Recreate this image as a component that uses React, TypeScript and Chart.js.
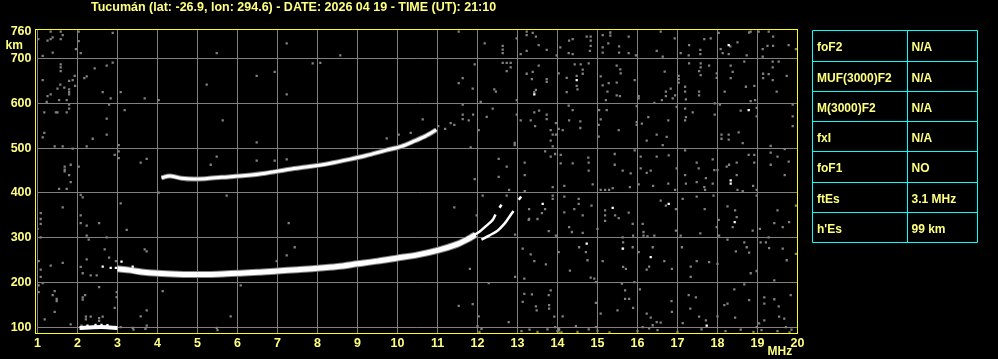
import { useEffect, useRef } from 'react';
import { Chart, registerables } from 'chart.js';

Chart.register(...registerables);

const TITLE = 'Tucumán (lat: -26.9, lon: 294.6) - DATE: 2026 04 19 - TIME (UT): 21:10';
const HEIGHT_TICKS = [100, 200, 300, 400, 500, 600, 700, 760];
const PARAM_NAMES = ['foF2', 'MUF(3000)F2', 'M(3000)F2', 'fxI', 'foF1', 'ftEs', "h'Es"];
const PARAM_VALUES = ['N/A', 'N/A', 'N/A', 'N/A', 'NO', '3.1 MHz', '99 km'];

// [MHz, km]
const F_TRACE: number[][] = [
  [3.0, 231], [3.3, 228], [3.6, 224], [4.0, 221], [4.5, 219], [5.0, 218], [5.5, 219], [6.0, 221],
  [6.5, 223], [7.0, 226], [7.5, 229], [8.0, 232], [8.5, 236], [9.0, 242], [9.5, 248], [10.0, 255],
  [10.5, 262], [11.0, 272], [11.5, 286], [11.8, 299], [11.95, 307],
];
const BRANCH_A: number[][] = [[11.85, 303], [12.04, 313], [12.21, 326], [12.38, 340], [12.45, 352]];
const BRANCH_A2: number[][] = [[12.55, 367], [12.6, 374]];
const BRANCH_B: number[][] = [[12.1, 296], [12.29, 305], [12.5, 316], [12.67, 331], [12.79, 346], [12.9, 360]];
const BRANCH_B2: number[][] = [[13.03, 385], [13.09, 392]];
const F2_MULTI: number[][] = [
  [4.1, 434], [4.3, 438], [4.6, 433], [4.9, 431], [5.2, 432], [5.6, 435], [6.2, 439], [6.7, 444],
  [7.3, 453], [7.8, 459], [8.3, 466], [8.8, 475], [9.2, 483], [9.7, 495], [10.1, 504], [10.45, 517],
  [10.7, 527], [10.97, 541],
];
const ES_TRACE: number[][] = [[2.05, 99], [2.3, 100], [2.6, 101], [2.8, 100], [3.0, 99]];
const WHITE_SPOTS: number[][] = [
  [2.25, 104], [2.45, 106], [2.6, 106], [2.75, 105], [2.63, 236], [2.83, 233], [2.96, 233], [3.1, 247],
  [3.38, 236], [13.42, 620], [14.48, 652], [18.28, 730], [18.78, 585], [18.33, 428], [13.63, 376],
  [15.38, 367], [16.78, 376], [18.43, 335], [14.73, 287], [15.63, 276], [16.33, 257], [17.73, 104],
  [18.33, 421],
];
const NOISE_LEFT: number[][] = [
  [1.33, 760], [1.58, 760], [1.63, 752], [2.03, 760], [2.88, 757], [1.33, 743], [1.25, 740], [1.58, 743],
  [2.03, 739], [1.38, 747], [1.13, 706], [1.38, 713], [1.96, 721], [2.08, 712], [1.02, 743], [7.23, 734],
  [5.48, 712], [8.57, 707], [1.58, 687], [1.58, 680], [1.58, 672], [2.88, 691], [2.73, 684], [2.43, 678],
  [2.17, 656], [2.23, 660], [1.93, 661], [1.13, 652], [1.79, 650], [1.88, 652], [1.94, 639], [1.57, 642],
  [1.5, 633], [1.67, 635], [1.79, 631], [1.79, 625], [1.79, 620], [1.33, 620], [1.25, 616], [1.54, 607],
  [1.73, 607], [2.63, 625], [3.08, 625], [2.83, 611], [3.68, 611], [4.03, 607], [1.23, 603], [1.79, 597],
  [1.79, 588], [1.46, 580], [1.5, 580], [1.17, 580], [1.73, 580], [2.79, 597], [3.18, 585], [2.73, 566],
  [5.63, 562], [5.23, 642], [6.48, 661], [6.93, 670], [7.23, 620], [7.88, 689], [8.07, 690], [1.17, 534],
  [1.13, 524], [2.38, 521], [2.73, 530], [1.43, 504], [1.63, 504], [1.88, 499], [2.23, 504], [3.03, 507],
  [3.03, 493], [3.03, 478], [2.93, 485], [3.73, 476], [3.58, 468], [6.48, 513], [6.48, 472], [6.93, 472],
  [7.23, 475], [5.48, 481], [5.33, 463], [9.73, 522], [10.03, 530], [10.33, 534], [1.68, 459], [1.68, 452],
  [1.68, 448], [1.79, 440], [1.83, 463], [2.03, 459],
  [1.54, 409], [1.73, 409], [1.83, 424], [2.08, 396], [2.13, 390], [3.08, 377], [4.03, 401], [5.73, 394],
  [1.63, 368], [1.08, 355], [1.08, 342], [1.08, 331], [2.08, 350], [2.08, 333], [2.23, 327], [2.54, 333],
  [3.23, 318], [2.23, 305], [2.28, 296], [2.73, 301], [1.08, 301], [1.0, 320], [7.28, 333], [7.43, 279],
  [7.23, 261], [6.98, 248], [2.68, 274], [2.79, 256], [2.96, 248], [3.68, 274], [3.73, 270], [2.23, 252],
  [1.63, 244], [1.33, 238], [1.03, 248], [1.08, 229], [1.08, 213], [2.08, 235], [2.13, 221], [2.33, 216],
  [2.48, 216], [2.54, 190], [1.03, 194], [1.03, 179], [1.13, 199], [1.43, 181], [1.38, 172], [1.48, 164],
  [1.48, 159], [2.13, 167], [2.13, 162], [2.19, 172], [2.98, 179], [2.98, 168], [2.93, 144], [3.73, 138],
  [3.58, 125], [4.13, 181], [6.08, 194], [5.83, 125], [1.43, 135], [1.18, 118], [2.21, 124], [2.33, 124],
  [2.54, 121], [2.63, 124], [3.08, 101], [3.38, 99], [3.73, 104], [5.48, 99], [1.83, 107], [2.21, 118],
  [2.54, 115], [2.1, 104], [3.4, 95], [3.7, 97], [5.5, 94],
];
const NOISE_RIGHT: number[][] = [
  [11.53, 760], [12.18, 734], [12.63, 728], [12.63, 720], [12.63, 712], [12.98, 745], [13.23, 760],
  [13.38, 757], [13.46, 749], [13.23, 752], [13.23, 717], [13.08, 710], [13.53, 730], [13.73, 719],
  [14.07, 725], [13.98, 707], [14.29, 740], [14.38, 743], [14.38, 710], [14.28, 712], [14.73, 749],
  [14.83, 749], [14.83, 740], [14.83, 728], [14.81, 717], [15.13, 752], [15.13, 725], [15.13, 713],
  [15.32, 758], [15.32, 751], [15.27, 734], [15.54, 727], [15.78, 749], [15.54, 713], [15.78, 712],
  [15.96, 707], [16.58, 760], [16.48, 717], [16.63, 704], [16.93, 745], [17.08, 712], [17.29, 730],
  [17.28, 707], [17.57, 719], [17.57, 710], [17.67, 743], [17.83, 745], [18.03, 757], [18.08, 721],
  [18.13, 712], [18.32, 727], [18.28, 710], [18.5, 736], [18.73, 707], [18.79, 758], [18.83, 760],
  [19.03, 760], [19.28, 760], [19.39, 749], [19.13, 721], [19.13, 704], [19.25, 728], [19.39, 728],
  [19.78, 730], [19.96, 721],
  [11.93, 687], [12.63, 690], [12.73, 690], [12.83, 690], [12.73, 672], [12.83, 680], [11.63, 656],
  [11.53, 645], [11.88, 633], [12.42, 631], [12.46, 626], [12.08, 603], [12.98, 607], [13.23, 666],
  [13.38, 670], [13.36, 654], [13.46, 630], [13.42, 625], [13.53, 684], [13.73, 654], [13.73, 648],
  [14.03, 667], [14.23, 657], [14.48, 661], [14.48, 639], [14.43, 687], [14.58, 687], [14.78, 689],
  [14.63, 675], [14.63, 666], [14.23, 625], [14.5, 631], [15.08, 660], [15.13, 640], [15.28, 645],
  [15.48, 684], [15.57, 676], [15.58, 667], [15.48, 646], [15.48, 618], [15.56, 616], [15.21, 607],
  [15.25, 626], [15.93, 652], [16.03, 616], [16.03, 611], [16.42, 601], [16.68, 671], [16.83, 633],
  [16.71, 626], [16.71, 616], [16.61, 607], [16.88, 611], [16.94, 618], [17.03, 661], [17.03, 654],
  [17.03, 646], [17.19, 637], [17.19, 626], [17.21, 609], [17.29, 689], [17.58, 689], [17.58, 680],
  [17.54, 672], [17.58, 663], [17.54, 626], [17.54, 618], [17.79, 684], [17.98, 667], [17.98, 657],
  [18.18, 626], [18.33, 684], [18.38, 670], [18.33, 656], [18.71, 637], [18.92, 639], [18.67, 693],
  [18.83, 605], [18.94, 607], [19.14, 666], [19.14, 656], [19.28, 665], [19.38, 693], [19.38, 680],
  [19.53, 693], [19.38, 652], [19.73, 661], [19.48, 626],
  [10.63, 564], [11.42, 552], [11.33, 556], [11.19, 543], [11.02, 549], [11.63, 597], [11.63, 575],
  [11.63, 565], [11.78, 562], [11.89, 575], [12.03, 540], [12.23, 570], [12.38, 588], [12.98, 575],
  [12.93, 512], [12.93, 507], [13.08, 562], [13.33, 562], [13.42, 580], [13.54, 584], [13.73, 575],
  [13.73, 565], [13.44, 549], [13.83, 540], [13.88, 530], [13.96, 530], [13.83, 517], [13.88, 504],
  [13.96, 556], [14.03, 543], [14.13, 540], [14.28, 595], [14.38, 585], [14.29, 562], [14.57, 560],
  [14.57, 545], [15.04, 585], [15.23, 585], [15.08, 564], [15.03, 552], [15.03, 526], [15.53, 540],
  [15.98, 594], [15.98, 558], [15.98, 552], [16.11, 555], [16.27, 569], [16.23, 517], [16.48, 530],
  [16.73, 525], [16.63, 507], [16.77, 562], [16.98, 592], [17.21, 569], [17.19, 562], [17.19, 588],
  [17.38, 580], [17.93, 600], [18.06, 597], [17.93, 575], [18.1, 530], [18.28, 530], [18.1, 521],
  [18.28, 519], [18.53, 535], [18.63, 511], [18.58, 584], [18.98, 590], [18.98, 571], [19.88, 597],
  [19.88, 571], [19.88, 549],
  [11.83, 502], [11.93, 431], [12.53, 476], [12.53, 436], [12.73, 459], [13.18, 468], [13.18, 440],
  [13.69, 493], [13.83, 481], [13.94, 487], [14.08, 485], [14.08, 466], [14.38, 466], [14.78, 468],
  [14.78, 450], [14.77, 479], [15.43, 487], [15.43, 463], [15.63, 450], [15.83, 444], [15.93, 495],
  [16.08, 481], [16.08, 455], [16.23, 445], [16.33, 450], [16.48, 481], [16.78, 484], [16.98, 455],
  [17.19, 495], [17.19, 440], [17.48, 468], [17.53, 455], [17.71, 433], [17.88, 475], [17.92, 451],
  [18.0, 451], [18.23, 459], [18.29, 463], [18.48, 468], [18.48, 440], [18.78, 485], [18.92, 485],
  [18.92, 468], [19.33, 505], [19.33, 490], [19.33, 463], [19.5, 481], [19.68, 498], [19.68, 440],
  [19.78, 470],
  [12.79, 407], [13.18, 404], [13.88, 413], [14.17, 416], [14.17, 392], [14.88, 419], [15.08, 407],
  [15.19, 407], [15.29, 407], [15.38, 411], [15.81, 413], [16.03, 419], [16.39, 416], [16.77, 421],
  [16.94, 407], [17.21, 421], [17.48, 424], [17.67, 413], [17.69, 407], [17.88, 421], [17.9, 394],
  [18.5, 407], [18.63, 404], [18.89, 416], [18.98, 407], [12.13, 394], [12.73, 394], [13.29, 364],
  [13.29, 342], [13.61, 355], [13.5, 342], [13.69, 364], [13.88, 394], [13.88, 387], [14.17, 357],
  [14.53, 387], [14.53, 376], [14.85, 372], [14.63, 350], [14.42, 364], [15.19, 361], [15.19, 350],
  [15.19, 338], [15.44, 350], [15.53, 344], [15.78, 356], [15.88, 331], [16.13, 331], [16.58, 383],
  [16.71, 372], [16.96, 364], [17.13, 387], [17.48, 392], [17.68, 364], [18.03, 340], [18.25, 370],
  [18.44, 361], [18.48, 346], [18.38, 324], [18.88, 316], [19.06, 320], [19.28, 301], [19.42, 333],
  [19.63, 324], [19.5, 361], [19.79, 335], [19.96, 372], [18.98, 394],
  [11.42, 368], [11.98, 350], [12.94, 307], [13.28, 340], [13.78, 315], [13.96, 305], [14.29, 324],
  [14.36, 313], [14.63, 311], [15.0, 320], [15.63, 301], [15.89, 305], [16.15, 313], [16.15, 305],
  [16.25, 303], [16.42, 305], [17.08, 305], [16.96, 316], [17.57, 310], [17.98, 324], [18.04, 305],
  [13.13, 276], [13.33, 263], [13.42, 248], [13.17, 209], [12.94, 213], [13.71, 241], [14.03, 268],
  [14.31, 227], [14.54, 279], [14.71, 268], [14.75, 250], [14.83, 211], [14.92, 209], [15.13, 248],
  [14.96, 201], [15.64, 290], [15.64, 276], [15.64, 235], [15.71, 231], [15.88, 279], [15.92, 201],
  [16.03, 268], [16.29, 236], [16.23, 229], [16.38, 279], [16.67, 248], [16.86, 231], [17.11, 279],
  [17.33, 236], [17.33, 213], [17.48, 248], [17.79, 246], [18.0, 242], [18.25, 296], [18.46, 270],
  [18.67, 290], [18.73, 279], [18.79, 267], [18.83, 221], [18.98, 226], [19.08, 290], [19.21, 290],
  [19.29, 277], [19.42, 205], [19.63, 276], [19.73, 250], [19.96, 264],
  [11.81, 231], [11.53, 148], [11.88, 152], [12.28, 199], [12.03, 125], [12.0, 103], [12.78, 112],
  [13.17, 175], [13.13, 157], [13.36, 174], [13.48, 138], [13.46, 147], [13.79, 150], [13.79, 142],
  [13.83, 183], [13.92, 124], [14.13, 125], [13.78, 172], [13.94, 101], [14.04, 94], [14.46, 103],
  [14.78, 96], [14.96, 155], [14.96, 101], [15.08, 131], [15.5, 138], [15.61, 198], [15.69, 183],
  [15.69, 164], [15.79, 164], [15.89, 144], [16.06, 185], [16.13, 101], [16.23, 131], [16.33, 122],
  [16.38, 105], [16.48, 112], [16.58, 111], [16.85, 159], [16.86, 135], [17.13, 110], [17.28, 172],
  [17.32, 142], [17.46, 167], [17.54, 124], [17.71, 116], [18.0, 125], [18.17, 150], [18.25, 153],
  [18.42, 185], [18.44, 122], [18.58, 95], [18.67, 196], [18.79, 161], [18.98, 101], [19.17, 167],
  [19.17, 153], [19.17, 116], [19.42, 163], [19.53, 147], [19.54, 124], [19.67, 120], [19.83, 172],
  [19.71, 101], [19.04, 109], [16.29, 98], [14.04, 98],
  [12.1, 97], [12.05, 90], [13.1, 92], [13.3, 95], [13.5, 90], [13.75, 96], [14.0, 92], [14.05, 88],
  [14.1, 89], [14.5, 90], [15.0, 93], [15.3, 89], [16.0, 92], [16.5, 94], [17.0, 90], [17.6, 96],
  [18.2, 92], [18.9, 90], [19.1, 94], [19.5, 92], [19.8, 89], [19.85, 95],
];

const TEXT = '#ffff80';
const FRAME = '#ffff00';
const GRID = '#808080';
const CYAN = '#00ffff';
const FONT = '"Liberation Sans", Arial, sans-serif';

const xy = (arr: number[][]) => arr.map(([x, y]) => ({ x, y }));

// lower "order" is drawn on top
const lineSet = (arr: number[][], color: string, width: number, order: number) => ({
  data: xy(arr),
  showLine: true,
  borderColor: color,
  borderWidth: width,
  pointRadius: 0,
  tension: 0.3,
  order,
});

const pointSet = (arr: number[][], color: string, order: number) => ({
  data: xy(arr),
  showLine: false,
  pointStyle: 'rect',
  pointRadius: 1.6,
  pointBorderWidth: 0,
  backgroundColor: color,
  borderColor: color,
  order,
});

const overlay = {
  id: 'overlay',
  beforeDraw(chart: any) {
    const ctx = chart.ctx;
    ctx.save();
    ctx.fillStyle = '#000';
    ctx.fillRect(0, 0, chart.width, chart.height);
    ctx.restore();
  },
  afterDraw(chart: any) {
    const ctx = chart.ctx;
    const a = chart.chartArea;
    ctx.save();
    ctx.strokeStyle = FRAME;
    ctx.lineWidth = 1;
    ctx.strokeRect(a.left - 2, a.top, a.right - a.left + 2, a.bottom - a.top);

    ctx.fillStyle = TEXT;
    ctx.textBaseline = 'alphabetic';
    ctx.textAlign = 'left';
    ctx.font = `bold 12.5px ${FONT}`;
    ctx.fillText(TITLE, 91, 11);
    ctx.font = `bold 12px ${FONT}`;
    ctx.fillText('km', 5.5, 49);
    ctx.fillText('MHz', 767.5, 355);

    // parameter table
    const tx0 = 812.5, tx1 = 907.5, tx2 = 977.5;
    const rows = [30.5, 61.5, 91.5, 121.5, 151.5, 182.5, 212.5, 242.5];
    ctx.strokeStyle = CYAN;
    ctx.beginPath();
    rows.forEach((r) => { ctx.moveTo(tx0, r); ctx.lineTo(tx2, r); });
    [tx0, tx1, tx2].forEach((c) => { ctx.moveTo(c, rows[0]); ctx.lineTo(c, rows[rows.length - 1]); });
    ctx.stroke();
    ctx.fillStyle = TEXT;
    ctx.font = `bold 12px ${FONT}`;
    PARAM_NAMES.forEach((n, i) => {
      ctx.fillText(n, 817, rows[i] + 20.5);
      ctx.fillText(PARAM_VALUES[i], 911.5, rows[i] + 20.5);
    });
    ctx.restore();
  },
};

export default function App() {
  const ref = useRef<HTMLCanvasElement | null>(null);
  useEffect(() => {
    if (!ref.current) return;
    const chart = new Chart(ref.current, {
      type: 'scatter',
      data: {
        datasets: [
          pointSet(NOISE_LEFT, GRID, 5),
          pointSet(NOISE_RIGHT, GRID, 5),
          lineSet(F_TRACE, GRID, 7, 4),
          lineSet(F2_MULTI, GRID, 5, 4),
          lineSet(F_TRACE, '#ffffff', 5, 1),
          lineSet(F2_MULTI, '#ffffff', 3, 1),
          lineSet(BRANCH_A, '#ffffff', 2.5, 1),
          lineSet(BRANCH_A2, '#ffffff', 2.5, 1),
          lineSet(BRANCH_B, '#ffffff', 2.5, 1),
          lineSet(BRANCH_B2, '#ffffff', 2.5, 1),
          lineSet(ES_TRACE, '#ffffff', 4, 1),
          pointSet(WHITE_SPOTS, '#ffffff', 0),
        ] as any,
      },
      options: {
        animation: false,
        responsive: false,
        devicePixelRatio: 1,
        layout: { padding: { top: 29.5, right: 200.5, left: 0, bottom: 0 } },
        plugins: { legend: { display: false }, tooltip: { enabled: false } },
        scales: {
          x: {
            type: 'linear',
            min: 1,
            max: 20,
            afterFit: (s: any) => { s.height = 25.5; },
            ticks: {
              stepSize: 1,
              autoSkip: false,
              maxRotation: 0,
              color: TEXT,
              padding: 3,
              font: { family: FONT, size: 12.5, weight: 'bold' },
            },
            grid: { color: GRID, lineWidth: 1, drawTicks: false },
            border: { display: false },
          },
          y: {
            type: 'linear',
            min: 86.6,
            max: 764.7,
            afterFit: (s: any) => { s.width = 37.5; },
            afterBuildTicks: (s: any) => { s.ticks = HEIGHT_TICKS.map((v) => ({ value: v })); },
            ticks: {
              color: TEXT,
              padding: 6,
              font: { family: FONT, size: 12.5, weight: 'bold' },
            },
            grid: {
              color: (c: any) => (c.tick && c.tick.value === 760 ? 'rgba(0,0,0,0)' : GRID),
              lineWidth: 1,
              drawTicks: false,
            },
            border: { display: false },
          },
        },
      } as any,
      plugins: [overlay],
    });
    return () => chart.destroy();
  }, []);
  return (
    <div style={{ position: 'absolute', left: 0, top: 0, width: 998, height: 359, background: '#000' }}>
      <canvas ref={ref} width={998} height={359} style={{ display: 'block', width: 998, height: 359 }} />
    </div>
  );
}
